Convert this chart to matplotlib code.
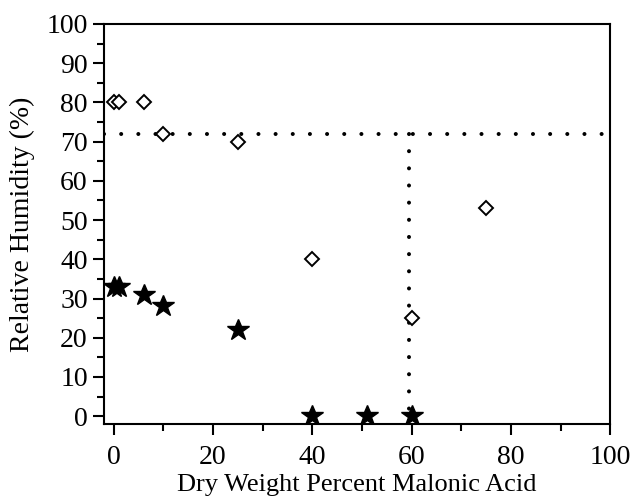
import matplotlib
matplotlib.use('Agg')
import matplotlib.pyplot as plt
from matplotlib.ticker import MultipleLocator

plt.rcParams['font.family'] = ['Liberation Serif', 'DejaVu Serif']

# Data
diamond_x = [0, 1, 6, 10, 25, 40, 60, 75]
diamond_y = [80, 80, 80, 72, 70, 40, 25, 53]
star_x = [0, 1, 6, 10, 25, 40, 51, 60]
star_y = [33, 33, 31, 28, 22, 0, 0, 0]

guide_rh = 72
guide_x = 59.5

fig = plt.figure(figsize=(6.33, 5.0), dpi=100)
ax = fig.add_axes([0.164, 0.152, 0.800, 0.800])

# Dotted guide lines
dots = (0, (0.01, 4.25))
ax.plot([-2, 100], [guide_rh, guide_rh], color='black', lw=2.9,
        linestyle=dots, dash_capstyle='round')
ax.plot([guide_x, guide_x], [guide_rh, -2], color='black', lw=2.9,
        linestyle=dots, dash_capstyle='round')

ax.plot(diamond_x, diamond_y, linestyle='none', marker='D', ms=7.5,
        markerfacecolor='white', markeredgecolor='black', mew=1.4)
ax.plot(star_x, star_y, linestyle='none', marker='*', ms=16.5,
        color='black')

ax.set_xlim(-2, 100)
ax.set_ylim(-2, 100)
ax.xaxis.set_major_locator(MultipleLocator(20))
ax.xaxis.set_minor_locator(MultipleLocator(10))
ax.yaxis.set_major_locator(MultipleLocator(10))
ax.yaxis.set_minor_locator(MultipleLocator(5))
ax.tick_params(which='major', direction='out', length=8, width=1.5,
               labelsize=20, top=False, right=False)
ax.tick_params(axis='x', which='major', pad=7)
ax.tick_params(which='minor', direction='out', length=5, width=1.5,
               top=False, right=False)
for s in ax.spines.values():
    s.set_linewidth(1.5)

ax.set_xlabel('Dry Weight Percent Malonic Acid', fontsize=19, labelpad=3)
ax.set_ylabel('Relative Humidity (%)', fontsize=20, labelpad=8)

fig.savefig('out.png', dpi=100)
